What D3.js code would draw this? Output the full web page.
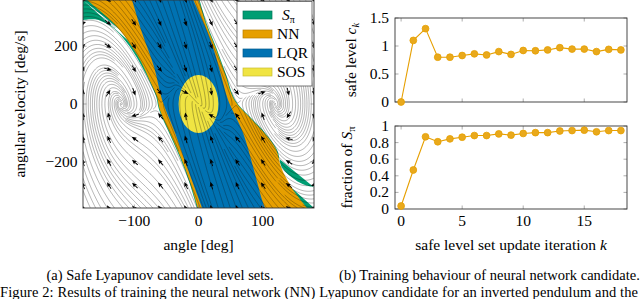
<!DOCTYPE html>
<html>
<head>
<meta charset="utf-8">
<script src="https://cdn.jsdelivr.net/npm/d3@7"></script>
<style>
  body { margin: 0; background: #fff; }
  svg text { font-family: "Liberation Serif", "Times New Roman", serif; fill: #000; }
</style>
</head>
<body>
<svg id="fig" width="640" height="299"></svg>
<script>
// ---------- data ----------
const iterations = [0, 1, 2, 3, 4, 5, 6, 7, 8, 9, 10, 11, 12, 13, 14, 15, 16, 17, 18];
const safeLevel = [0.00, 1.10, 1.31, 0.80, 0.80, 0.83, 0.86, 0.84, 0.90, 0.85, 0.92, 0.915, 0.93, 0.97, 0.945, 0.945, 0.90, 0.94, 0.93];
const safeFraction = [0.036, 0.47, 0.87, 0.81, 0.845, 0.865, 0.885, 0.885, 0.905, 0.89, 0.91, 0.92, 0.92, 0.94, 0.945, 0.95, 0.93, 0.945, 0.945];

const iterTicks = [0, 5, 10, 15];
const levelTicks = [0, 0.5, 1, 1.5];
const fractionTicks = [0, 0.2, 0.4, 0.6, 0.8, 1];
const angleTicks = [-100, 0, 100];
const velocityTicks = [-200, 0, 200];

// level-set boundaries, [angle deg, angular velocity deg/s]
const roaLeft = [[-180, 291], [-161, 293], [-140, 274], [-124, 245], [-103.5, 187], [-88, 129], [-75, 72], [-66, 26], [-61.4, -20], [-44.3, -107], [-28.7, -186], [-14.6, -269], [-2.2, -360]];
const roaRight = [[180, -288], [166, -280], [150.5, -262], [130.3, -221], [122.5, -159], [103.8, -100], [80.4, -45], [57, 14], [43, 101], [29, 187], [13.4, 274], [1.7, 360]];
const nnLeft = [[-173.6, 360], [-155, 325], [-136, 287], [-119, 246], [-100.4, 187], [-89.5, 146], [-74, 72], [-64.8, 26], [-60.2, -20], [-43, -107], [-27.4, -186], [-13.4, -269], [-0.9, -360]];
const nnRight = [[169.2, -360], [155.2, -321], [142.7, -280], [129, -221], [121.3, -159], [102.6, -100], [79.2, -45], [55.8, 14], [41.8, 101], [27.8, 187], [12.2, 274], [0.5, 360]];
const lqrLeft = [[-103.5, 360], [-87.9, 246], [-69.2, 128], [-56.7, 14], [-36.5, -100], [-17.8, -218], [5.6, -360]];
const lqrRight = [[103.8, -360], [99.1, -332], [85.1, -218], [69.5, -100], [46.1, 14], [35, 100], [24, 187], [9, 275], [-8, 360]];
const sosEllipse = { angle: 0, velocity: 0, rAngle: 31, rVelocity: 100 };

// quiver grid
const arrowAngles = [-180, -140, -100, -60, -20, 20, 60, 100, 140, 180];
const arrowVelocities = [-360, -280, -200, -120, -40, 40, 120, 200, 280, 360];
// where the stream lines wind up tightly
const spiralCentres = [[-120, 0], [120, 0]];

// pendulum closed loop used for the stream lines
const pendulum = { mass: 0.15, length: 0.5, friction: 0.1, gravity: 9.81 };
const lqrGain = [1.31, 0.237];
const maxTorque = pendulum.mass * pendulum.gravity * pendulum.length * Math.sin(Math.PI / 3);

const legendItems = [
  { key: 'S', color: '#009E73', edge: '#00775a' },
  { key: 'NN', color: '#E69F00', edge: '#b87f00' },
  { key: 'LQR', color: '#0072B2', edge: '#005a8c' },
  { key: 'SOS', color: '#F0E442', edge: '#c8be30' }
];

const svg = d3.select('#fig');
const defs = svg.append('defs');

// ---------- phase portrait ----------
const phase = { left: 83, right: 314, top: 0, bottom: 208 };
const x = d3.scaleLinear().domain([-180, 180]).range([phase.left, phase.right]);
const y = d3.scaleLinear().domain([-360, 360]).range([phase.bottom, phase.top]);

defs.append('clipPath').attr('id', 'phaseClip')
  .append('rect')
  .attr('x', phase.left).attr('y', phase.top)
  .attr('width', phase.right - phase.left).attr('height', phase.bottom - phase.top);

const gPhase = svg.append('g').attr('clip-path', 'url(#phaseClip)');
const edge = d3.line().x(d => x(d[0])).y(d => y(d[1])).curve(d3.curveCatmullRom);
// join smooth boundary pieces with straight segments along the frame
const region = (...parts) => parts.map((p, i) => i === 0 ? edge(p) : 'L' + edge(p).slice(1)).join('') + 'Z';

gPhase.append('path').attr('d', region([[-180, 360]], roaLeft, [[180, -360]], roaRight)).attr('fill', '#009E73');
gPhase.append('path').attr('d', region(nnLeft, nnRight)).attr('fill', '#E69F00');
gPhase.append('path').attr('d', region(lqrLeft, lqrRight)).attr('fill', '#0072B2');
gPhase.append('ellipse')
  .attr('cx', x(sosEllipse.angle)).attr('cy', y(sosEllipse.velocity))
  .attr('rx', x(sosEllipse.rAngle) - x(0))
  .attr('ry', y(0) - y(sosEllipse.rVelocity))
  .attr('fill', '#F0E442');

// vector field in deg/s and deg/s^2
function field(thDeg, omDeg) {
  const d = Math.PI / 180;
  const th = thDeg * d, om = omDeg * d;
  const ml2 = pendulum.mass * pendulum.length * pendulum.length;
  let u = -(lqrGain[0] * th + lqrGain[1] * om);
  u = Math.max(-maxTorque, Math.min(maxTorque, u));
  const acc = pendulum.gravity / pendulum.length * Math.sin(th) - pendulum.friction / ml2 * om + u / ml2;
  return [omDeg, acc / d];
}
const sx = (phase.right - phase.left) / 360;
const sy = (phase.bottom - phase.top) / 720;
function pxDir(px, py) {
  const f = field(x.invert(px), y.invert(py));
  const vx = f[0] * sx, vy = -f[1] * sy;
  const n = Math.hypot(vx, vy);
  return n < 1e-9 ? null : [vx / n, vy / n];
}

// evenly spaced stream lines, tighter around the spirals
const W = phase.right - phase.left, H = phase.bottom - phase.top;
const sepFar = 3.9, sepNear = 1.6;
function separation(px, py) {
  let r = Infinity;
  spiralCentres.forEach(c => {
    r = Math.min(r, Math.hypot((px - x(c[0])) / 42, (py - y(c[1])) / 62));
  });
  return sepNear + (sepFar - sepNear) * Math.min(1, r);
}
const bin = 2;
const nbx = Math.ceil(W / bin) + 1, nby = Math.ceil(H / bin) + 1;
const bins = Array.from({ length: nbx * nby }, () => []);
const dropped = new Set();
const inside = (px, py) => px >= phase.left && px < phase.right && py >= phase.top && py < phase.bottom;
const binX = px => Math.floor((px - phase.left) / bin);
const binY = py => Math.floor((py - phase.top) / bin);

function blocked(px, py, id, idx, d, lag) {
  const r = Math.ceil(d / bin), bx = binX(px), by = binY(py);
  for (let j = by - r; j <= by + r; j++) {
    if (j < 0 || j >= nby) continue;
    for (let i = bx - r; i <= bx + r; i++) {
      if (i < 0 || i >= nbx) continue;
      const list = bins[j * nbx + i];
      for (let k = 0; k < list.length; k++) {
        const q = list[k];
        if (dropped.has(q.id)) continue;
        if ((q.x - px) ** 2 + (q.y - py) ** 2 >= d * d) continue;
        if (q.id !== id || Math.abs(q.idx - idx) > lag) return true;
      }
    }
  }
  return false;
}
const addPoint = (px, py, id, idx) => bins[binY(py) * nbx + binX(px)].push({ x: px, y: py, id, idx });

const step = 0.4;
function trace(px, py, dir, id) {
  const pts = [];
  for (let n = 1; n < 6000; n++) {
    const v1 = pxDir(px, py);
    if (!v1) break;
    const v2 = pxDir(px + dir * step / 2 * v1[0], py + dir * step / 2 * v1[1]);
    if (!v2) break;
    px += dir * step * v2[0];
    py += dir * step * v2[1];
    if (!inside(px, py)) break;
    const s = separation(px, py);
    if (blocked(px, py, id, dir * n, 0.55 * s, Math.ceil(2.5 * s / step))) break;
    addPoint(px, py, id, dir * n);
    pts.push([px, py]);
  }
  return pts;
}

const seeds = [];
for (let j = 0; j < H / 2; j++) for (let i = 0; i < W / 2; i++) {
  const px = phase.left + 1 + i * 2, py = phase.top + 1 + j * 2;
  seeds.push({ px, py, ring: Math.min(px - phase.left, py - phase.top, phase.right - px, phase.bottom - py) });
}
seeds.sort((a, b) => a.ring - b.ring);

const streams = [];
seeds.forEach((s, id) => {
  if (!inside(s.px, s.py)) return;
  if (blocked(s.px, s.py, -1, 0, separation(s.px, s.py), 0)) return;
  addPoint(s.px, s.py, id, 0);
  const back = trace(s.px, s.py, -1, id);
  const fwd = trace(s.px, s.py, 1, id);
  const line = back.reverse().concat([[s.px, s.py]], fwd);
  if (line.length * step < 9) { dropped.add(id); return; }
  streams.push(line.filter((p, i) => i % 2 === 0 || i === line.length - 1));
});

gPhase.append('g')
  .selectAll('path')
  .data(streams)
  .join('path')
  .attr('d', d3.line())
  .attr('fill', 'none')
  .attr('stroke', '#111')
  .attr('stroke-opacity', 0.62)
  .attr('stroke-width', 0.5);

// arrow heads on a regular grid
const arrowGrid = [];
arrowAngles.forEach(a => arrowVelocities.forEach(v => arrowGrid.push([a, v])));
gPhase.append('g')
  .selectAll('path')
  .data(arrowGrid)
  .join('path')
  .attr('d', 'M3.2,0 L-1.6,-2.1 L-0.8,0 L-1.6,2.1 Z M-0.8,-0.45 L-4.6,-0.45 L-4.6,0.45 L-0.8,0.45 Z')
  .attr('fill', '#000')
  .attr('transform', d => {
    const dir = pxDir(x(d[0]), y(d[1])) || [1, 0];
    return `translate(${x(d[0])},${y(d[1])}) rotate(${Math.atan2(dir[1], dir[0]) * 180 / Math.PI})`;
  });

// frame and ticks
function frameTicks(g, fx, fy, xt, yt, len) {
  const [x0, x1] = fx.range(), [y0, y1] = fy.range();
  g.selectAll('.tx').data(xt).join('path').attr('class', 'tx')
    .attr('d', d => `M${fx(d)},${y0}v${-len}M${fx(d)},${y1}v${len}`);
  g.selectAll('.ty').data(yt).join('path').attr('class', 'ty')
    .attr('d', d => `M${x0},${fy(d)}h${len}M${x1},${fy(d)}h${-len}`);
  g.selectAll('path').attr('stroke', '#777').attr('stroke-width', 0.6).attr('fill', 'none');
  g.append('rect')
    .attr('x', x0).attr('y', y1).attr('width', x1 - x0).attr('height', y0 - y1)
    .attr('fill', 'none').attr('stroke', '#333').attr('stroke-width', 0.9);
}
frameTicks(svg.append('g'), x, y, angleTicks, velocityTicks, 3.5);

const minus = s => String(s).replace('-', '\u2212');
svg.append('g').selectAll('text').data(angleTicks).join('text')
  .attr('x', d => x(d)).attr('y', 225.5)
  .attr('text-anchor', 'middle').style('font-size', '15.5px').text(minus);
svg.append('g').selectAll('text').data(velocityTicks).join('text')
  .attr('x', phase.left - 5.5).attr('y', d => y(d) + 5)
  .attr('text-anchor', 'end').style('font-size', '15.5px').text(minus);

svg.append('text').attr('x', x(0)).attr('y', 250)
  .attr('text-anchor', 'middle').style('font-size', '15.5px').text('angle [deg]');
svg.append('text').attr('transform', `translate(25,${y(0)}) rotate(-90)`)
  .attr('text-anchor', 'middle').style('font-size', '15.5px').text('angular velocity [deg/s]');

// legend
const legend = svg.append('g');
legend.append('rect').attr('x', 237).attr('y', 1.5).attr('width', 75).attr('height', 84.5)
  .attr('fill', '#fff').attr('stroke', '#555').attr('stroke-width', 0.8);
const entry = legend.selectAll('g').data(legendItems).join('g')
  .attr('transform', (d, i) => `translate(243,${15 + i * 19})`);
entry.append('rect').attr('x', 0).attr('y', -4).attr('width', 29).attr('height', 8)
  .attr('fill', d => d.color).attr('stroke', d => d.edge).attr('stroke-width', 0.7);
entry.each(function (d) {
  const t = d3.select(this).append('text').attr('x', 34).attr('y', 5).style('font-size', '15.5px');
  if (d.key === 'S') {
    t.attr('x', 39);
    t.append('tspan').style('font-style', 'italic').text('S');
    t.append('tspan').attr('dy', 3).style('font-size', '10px').text('π');
  } else {
    t.text(d.key);
  }
});

// ---------- training curves ----------
const xk = d3.scaleLinear().domain([-0.5, 18.5]).range([395, 627]);
const yLevel = d3.scaleLinear().domain([0, 1.5]).range([102, 18]);
const yFrac = d3.scaleLinear().domain([0, 1]).range([209, 126]);

function drawSeries(ys, ticks, values) {
  frameTicks(svg.append('g'), xk, ys, iterTicks, ticks, 3.5);
  svg.append('g').selectAll('text').data(ticks).join('text')
    .attr('x', 389).attr('y', d => ys(d) + 5)
    .attr('text-anchor', 'end').style('font-size', '15.5px').text(d => String(d));
  const g = svg.append('g');
  g.append('path').datum(values)
    .attr('d', d3.line().x((d, i) => xk(iterations[i])).y(d => ys(d)))
    .attr('fill', 'none').attr('stroke', '#E69F00').attr('stroke-width', 1.1);
  g.selectAll('circle').data(values).join('circle')
    .attr('cx', (d, i) => xk(iterations[i])).attr('cy', d => ys(d)).attr('r', 3.4)
    .attr('fill', '#E9A91c').attr('stroke', '#E69F00').attr('stroke-width', 0.8);
}
drawSeries(yLevel, levelTicks, safeLevel);
drawSeries(yFrac, fractionTicks, safeFraction);

svg.append('g').selectAll('text').data(iterTicks).join('text')
  .attr('x', d => xk(d)).attr('y', 225.5)
  .attr('text-anchor', 'middle').style('font-size', '15.5px').text(d => String(d));

const lab1 = svg.append('text').attr('transform', `translate(356,${(18 + 102) / 2}) rotate(-90)`)
  .attr('text-anchor', 'middle').style('font-size', '15.5px');
lab1.append('tspan').text('safe level ');
lab1.append('tspan').style('font-style', 'italic').text('c');
lab1.append('tspan').attr('dy', 3).style('font-size', '10.5px').style('font-style', 'italic').text('k');

const lab2 = svg.append('text').attr('transform', `translate(352,${(126 + 209) / 2}) rotate(-90)`)
  .attr('text-anchor', 'middle').style('font-size', '15.5px');
lab2.append('tspan').text('fraction of ');
lab2.append('tspan').style('font-style', 'italic').text('S');
lab2.append('tspan').attr('dy', 3).style('font-size', '10.5px').text('π');

const lab3 = svg.append('text').attr('x', xk(9)).attr('y', 250)
  .attr('text-anchor', 'middle').style('font-size', '15.5px');
lab3.append('tspan').text('safe level set update iteration ');
lab3.append('tspan').style('font-style', 'italic').text('k');

// captions
svg.append('text').attr('x', 160).attr('y', 279.5).attr('text-anchor', 'middle')
  .style('font-size', '14.5px').text('(a) Safe Lyapunov candidate level sets.');
svg.append('text').attr('x', 489.5).attr('y', 279.5).attr('text-anchor', 'middle')
  .style('font-size', '14.5px').text('(b) Training behaviour of neural network candidate.');
svg.append('text').attr('x', 0).attr('y', 297).style('font-size', '14.5px')
  .attr('textLength', 638).attr('lengthAdjust', 'spacing')
  .text('Figure 2:   Results of training the neural network (NN) Lyapunov candidate for an inverted pendulum and the');
</script>
</body>
</html>
